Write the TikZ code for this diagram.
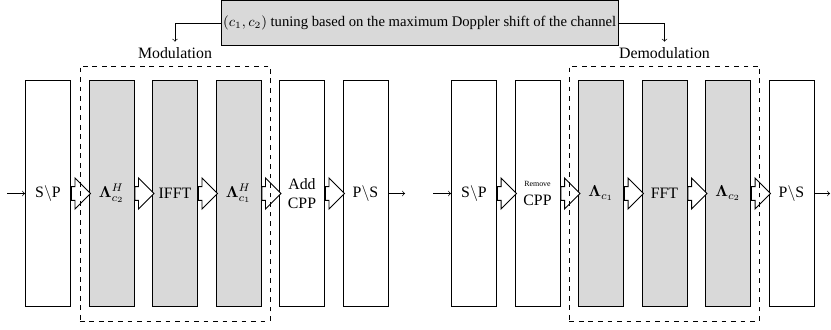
\documentclass[tikz,border=0pt]{standalone}
\usepackage{amsmath,amssymb}
\usepackage[no-math]{fontspec}
\setmainfont{Liberation Serif}
\usepackage{xcolor}
\usepackage{tikz}
\usetikzlibrary{shapes.arrows,positioning,fit}

\begin{document}
\begin{tikzpicture}[x=0.631pt,y=0.631pt,
  blk/.style={draw,line width=0.6pt,minimum width=28.4pt,minimum height=143.2pt,inner sep=0pt,align=center},
  barrow/.style={single arrow,draw,fill=white,line width=0.6pt,minimum height=12pt,minimum width=18.9pt,single arrow head extend=5.45pt,inner xsep=0pt,inner ysep=4pt,anchor=tail},
  grp/.style={draw,dashed,inner xsep=5.4pt,inner ysep=8.6pt}]
\useasboundingbox (0,0) rectangle (831,330);
\node[draw,fill=gray!30,line width=0.6pt,minimum width=250.5pt,minimum height=28.8pt,inner xsep=1pt,font=\fontsize{9.25pt}{11pt}\selectfont] (tune) at (419.7,307.1) {$(c_1,c_2)$ tuning based on the maximum Doppler shift of the channel};
\foreach \i/\x/\f/\t in {1/48/white/{S$\backslash$P},2/111.5/gray!30/{$\mathbf{\Lambda}^H_{c_2}$},3/175/gray!30/{IFFT},4/238.5/gray!30/{$\mathbf{\Lambda}^H_{c_1}$},5/302/white/{Add\\CPP},6/365.5/white/{P$\backslash$S},
  7/474/white/{S$\backslash$P},8/537.5/white/{{\tiny Remove}\\CPP},9/601/gray!30/{$\mathbf{\Lambda}_{c_1}$},10/664.5/gray!30/{FFT},11/728/gray!30/{$\mathbf{\Lambda}_{c_2}$},12/791.5/white/{P$\backslash$S}}
  \node[blk,fill=\f] (b\i) at (\x,136.5) {\t};
\foreach \i in {1,2,3,4,5,7,8,9,10,11}
  \node[barrow] (a\i) at (b\i.east) {};
\node[grp,fit=(b2)(b4)] (modgrp) {};
\node[grp,fit=(b9)(b11)] (demodgrp) {};
\node[above=1pt of modgrp] (modlbl) {Modulation};
\node[above=1pt of demodgrp] (demodlbl) {Demodulation};
\draw[->] (tune.west) -| (modlbl.north);
\draw[->] (tune.east) -| (demodlbl.north);
\coordinate (in1) at (7,136.5);
\coordinate (out1) at (405,136.5);
\coordinate (in2) at (433,136.5);
\coordinate (out2) at (830,136.5);
\draw[->] (in1) -- (b1.west);
\draw[->] (b6.east) -- (out1);
\draw[->] (in2) -- (b7.west);
\draw[->] (b12.east) -- (out2);
\end{tikzpicture}
\end{document}
